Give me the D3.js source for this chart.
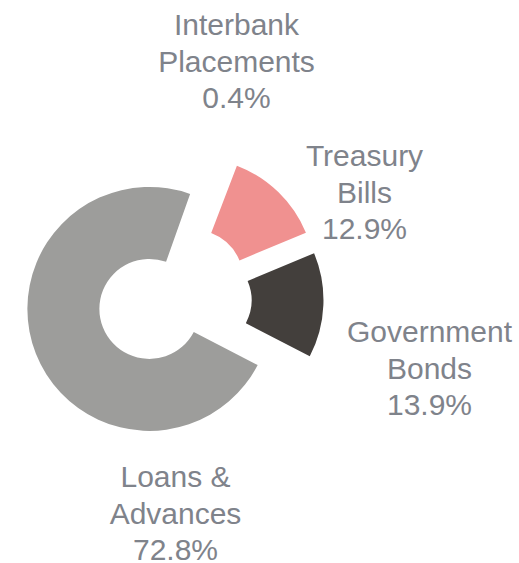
<!DOCTYPE html>
<html>
<head>
<meta charset="utf-8">
<script src="https://cdn.jsdelivr.net/npm/d3@7"></script>
<style>
  html, body { margin: 0; padding: 0; background: #ffffff; }
  svg { display: block; }
</style>
</head>
<body>
<svg id="chart" width="519" height="563"></svg>
<script>
// ---- data ----
const categories = ["Interbank Placements", "Treasury Bills", "Government Bonds", "Loans & Advances"];
const labelLines = [["Interbank", "Placements"], ["Treasury", "Bills"], ["Government", "Bonds"], ["Loans &", "Advances"]];
const values = [0.4, 12.9, 13.9, 72.8];
const colors = ["#ffffff", "#f09190", "#433f3c", "#9d9d9b"];

// ---- layout ----
const W = 519, H = 563;
const cx = 174.5, cy = 299;
const outerR = 122, innerR = 50, explode = 27;
const startDeg = 19.5;
// label anchor positions relative to the pie centre (layout, not data)
const labelPos = [[62, -264], [190, -133], [255, 43], [1, 188]];
const lineH = 36.7;

const svg = d3.select("#chart");
const g = svg.append("g").attr("transform", `translate(${cx},${cy})`);

const pie = d3.pie().sort(null).value(d => d)
  .startAngle(startDeg * Math.PI / 180)
  .endAngle((startDeg + 360) * Math.PI / 180);
const arcs = pie(values);
const arc = d3.arc().innerRadius(innerR).outerRadius(outerR);

g.selectAll("path.slice").data(arcs).enter().append("path")
  .attr("class", "slice")
  .attr("d", arc)
  .attr("fill", (d, i) => colors[i])
  .attr("transform", d => {
    const a = (d.startAngle + d.endAngle) / 2;
    return `translate(${explode * Math.sin(a)},${-explode * Math.cos(a)})`;
  });

const fmt = d3.format(".1f");
const labels = g.selectAll("text.lbl").data(arcs).enter().append("text")
  .attr("class", "lbl")
  .attr("text-anchor", "middle")
  .attr("font-family", "'Liberation Sans', Arial, sans-serif")
  .attr("font-size", "30px")
  .attr("fill", "#7f838b")
  .attr("transform", (d, i) => `translate(${labelPos[i][0]},${labelPos[i][1]})`);

labels.each(function(d, i) {
  const t = d3.select(this);
  const lines = labelLines[i].concat([fmt(values[i]) + "%"]);
  lines.forEach((ln, k) => {
    t.append("tspan").attr("x", 0).attr("y", k * lineH).text(ln);
  });
});
</script>
</body>
</html>
